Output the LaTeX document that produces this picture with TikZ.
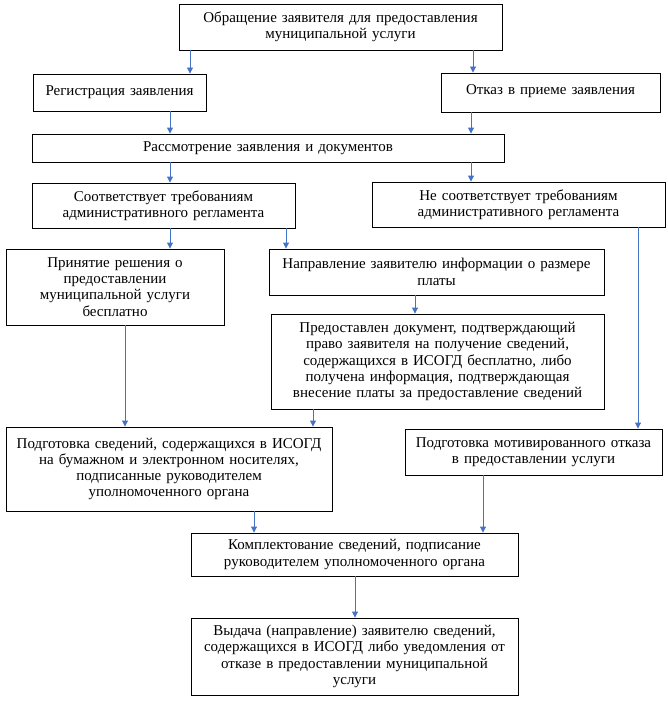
\documentclass[tikz,border=0pt]{standalone}
\usepackage{fontspec}
\setmainfont{Liberation Serif}
\usetikzlibrary{arrows.meta}
\definecolor{arrblue}{HTML}{4472C4}
\tikzset{
  bx/.style={draw=black, line width=0.9pt, align=center, inner sep=2pt, font=\fontsize{15pt}{16.3pt}\selectfont},
  arr/.style={draw=arrblue, line width=0.9pt, -{Triangle[width=6pt,length=6pt]}}
}
\begin{document}
\begin{tikzpicture}[x=1pt,y=-1pt]
\useasboundingbox (0,0) rectangle (668,706);
\node[bx, minimum width=323pt, minimum height=46pt, text width=319pt] (b1) at (340.5,27) {Обращение заявителя для предоставления\\ муниципальной услуги};
\node[bx, minimum width=173pt, minimum height=37pt, text width=169pt] (reg) at (119.5,92.5) {\raisebox{4pt}{Регистрация заявления}};
\node[bx, minimum width=219pt, minimum height=39pt, text width=215pt] (otk) at (550.5,92.5) {\raisebox{5pt}{Отказ в приеме заявления}};
\node[bx, minimum width=472pt, minimum height=28pt, text width=468pt] (ras) at (268,148) {Рассмотрение заявления и документов};
\node[bx, minimum width=263pt, minimum height=45pt, text width=259pt] (sootv) at (163.5,205.5) {Соответствует требованиям\\ административного регламента};
\node[bx, minimum width=293pt, minimum height=45pt, text width=289pt] (nesootv) at (518.5,204.5) {Не соответствует требованиям\\ административного регламента};
\node[bx, minimum width=218pt, minimum height=76pt, text width=214pt] (prin) at (115,287) {Принятие решения о\\ предоставлении\\ муниципальной услуги\\ бесплатно};
\node[bx, minimum width=335pt, minimum height=46pt, text width=331pt] (napr) at (436.5,272) {Направление заявителю информации о размере\\ платы};
\node[bx, minimum width=333pt, minimum height=95pt, text width=329pt] (pred) at (437.5,361.5) {Предоставлен документ, подтверждающий\\ право заявителя на получение сведений,\\ содержащихся в ИСОГД бесплатно, либо\\ получена информация, подтверждающая\\ внесение платы за предоставление сведений};
\node[bx, minimum width=326pt, minimum height=84pt, text width=322pt] (podg) at (169,469) {Подготовка сведений, содержащихся в ИСОГД\\ на бумажном и электронном носителях,\\ подписанные руководителем\\ уполномоченного органа};
\node[bx, minimum width=257pt, minimum height=46pt, text width=253pt] (motiv) at (533.5,452) {Подготовка мотивированного отказа\\ в предоставлении услуги};
\node[bx, minimum width=327pt, minimum height=43pt, text width=323pt] (kompl) at (354.5,554.5) {Комплектование сведений, подписание\\ руководителем уполномоченного органа};
\node[bx, minimum width=327pt, minimum height=77pt, text width=323pt] (vyd) at (354.5,656.5) {Выдача (направление) заявителю сведений,\\ содержащихся в ИСОГД либо уведомления от\\ отказе в предоставлении муниципальной\\ услуги};
\coordinate (x190) at (190,0);
\coordinate (x473) at (473,0);
\coordinate (x170) at (170,0);
\coordinate (x471) at (471,0);
\coordinate (x286) at (286,0);
\coordinate (x638) at (638,0);
\coordinate (x415) at (415,0);
\coordinate (x125) at (125,0);
\coordinate (x313) at (313,0);
\coordinate (x254) at (254,0);
\coordinate (x483) at (483,0);
\coordinate (x355) at (355,0);
\draw[arr] (x190 |- b1.south) -- (x190 |- reg.north);
\draw[arr] (x473 |- b1.south) -- (x473 |- otk.north);
\draw[arr] (x170 |- reg.south) -- (x170 |- ras.north);
\draw[arr] (x471 |- otk.south) -- (x471 |- ras.north);
\draw[arr] (x170 |- ras.south) -- (x170 |- sootv.north);
\draw[arr] (x471 |- ras.south) -- (x471 |- nesootv.north);
\draw[arr] (x170 |- sootv.south) -- (x170 |- prin.north);
\draw[arr] (x286 |- sootv.south) -- (x286 |- napr.north);
\draw[arr] (x638 |- nesootv.south) -- (x638 |- motiv.north);
\draw[arr] (x415 |- napr.south) -- (x415 |- pred.north);
\draw[arr] (x125 |- prin.south) -- (x125 |- podg.north);
\draw[arr] (x313 |- pred.south) -- (x313 |- podg.north);
\draw[arr] (x254 |- podg.south) -- (x254 |- kompl.north);
\draw[arr] (x483 |- motiv.south) -- (x483 |- kompl.north);
\draw[arr] (x355 |- kompl.south) -- (x355 |- vyd.north);
\end{tikzpicture}
\end{document}
